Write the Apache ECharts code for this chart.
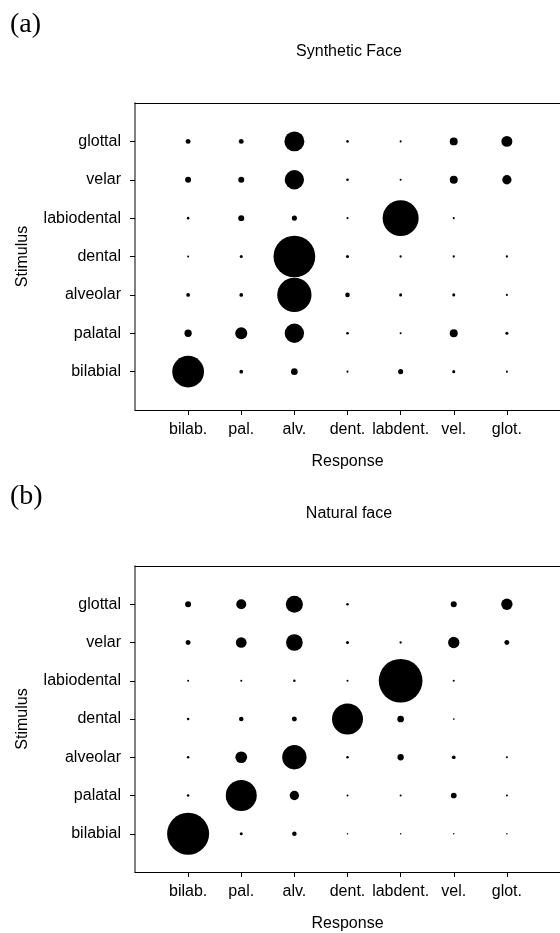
<!DOCTYPE html>
<html>
<head>
<meta charset="utf-8">
<script src="https://cdn.jsdelivr.net/npm/echarts@6/dist/echarts.min.js"></script>
<style>
html,body{margin:0;padding:0;background:#fff;}
#chart{width:560px;height:933px;}
</style>
</head>
<body>
<div id="chart"></div>
<script>
// Response categories (x) and stimulus categories (y, bottom to top)
const responseLabels = ['bilab.', 'pal.', 'alv.', 'dent.', 'labdent.', 'vel.', 'glot.'];
const stimulusLabels = ['bilabial', 'palatal', 'alveolar', 'dental', 'labiodental', 'velar', 'glottal'];

// (a) Synthetic Face: one row per stimulus, values per response (bubble area)
const synBilabial    = [47.5, 0.65, 2.1, 0.19, 1.2, 0.43, 0.19];
const synPalatal     = [2.5, 6.8, 17.6, 0.34, 0.19, 3.0, 0.43];
const synAlveolar    = [0.65, 0.65, 55.6, 0.96, 0.43, 0.43, 0.19];
const synDental      = [0.19, 0.43, 82.2, 0.43, 0.25, 0.25, 0.25];
const synLabiodental = [0.3, 1.7, 1.2, 0.19, 61.2, 0.19, 0];
const synVelar       = [1.7, 1.7, 17.6, 0.34, 0.19, 3.0, 4.1];
const synGlottal     = [1.18, 1.18, 18.9, 0.3, 0.19, 3.0, 5.7];

// (b) Natural face
const natBilabial    = [83.4, 0.43, 0.96, 0.11, 0.11, 0.11, 0.11];
const natPalatal     = [0.3, 45.4, 4.1, 0.19, 0.19, 1.54, 0.19];
const natAlveolar    = [0.3, 6.47, 27.9, 0.3, 1.88, 0.65, 0.19];
const natDental      = [0.3, 0.96, 1.18, 45.4, 2.12, 0.14, 0];
const natLabiodental = [0.19, 0.19, 0.3, 0.19, 90.3, 0.19, 0];
const natVelar       = [1.18, 5.41, 13.2, 0.43, 0.25, 6.03, 1.18];
const natGlottal     = [1.7, 4.73, 13.7, 0.3, 0, 1.7, 6.03];

const panelTitles = ['Synthetic Face', 'Natural face'];
const panelTags = ['(a)', '(b)'];

function toPoints(rows) {
  const pts = [];
  rows.forEach((row, yi) => {
    row.forEach((v, xi) => {
      if (v > 0) pts.push([xi + 1, yi + 1, v]);
    });
  });
  return pts;
}
const synData = toPoints([synBilabial, synPalatal, synAlveolar, synDental, synLabiodental, synVelar, synGlottal]);
const natData = toPoints([natBilabial, natPalatal, natAlveolar, natDental, natLabiodental, natVelar, natGlottal]);

const FONT = 'Liberation Sans, Arial, Helvetica, sans-serif';
const tickVals = [1, 2, 3, 4, 5, 6, 7];

const grids = [
  {left: 135, right: -2, top: 103, height: 307},
  {left: 135, right: -2, top: 566, height: 307}
];

function bottomX(gi) {
  return {
    type: 'value', gridIndex: gi, min: 0, max: 8, interval: 1, position: 'bottom',
    axisLine: {show: true, onZero: false, lineStyle: {color: '#000', width: 1}},
    axisTick: {show: true, length: 5, customValues: tickVals, lineStyle: {color: '#000', width: 1}},
    axisLabel: {customValues: tickVals, formatter: v => responseLabels[v - 1] || '', color: '#000', fontSize: 16, fontFamily: FONT, margin: 12},
    splitLine: {show: false},
    name: 'Response', nameLocation: 'middle', nameGap: 44,
    nameTextStyle: {color: '#000', fontSize: 16, fontFamily: FONT}
  };
}
function topX(gi) {
  return {
    type: 'value', gridIndex: gi, min: 0, max: 8, interval: 1, position: 'top',
    axisLine: {show: true, onZero: false, lineStyle: {color: '#000', width: 1}},
    axisTick: {show: false}, axisLabel: {show: false}, splitLine: {show: false}
  };
}
function leftY(gi) {
  return {
    type: 'value', gridIndex: gi, min: 0, max: 8, interval: 1,
    axisLine: {show: true, onZero: false, lineStyle: {color: '#555', width: 1.5}},
    axisTick: {show: true, length: 5, customValues: tickVals, lineStyle: {color: '#000', width: 1}},
    axisLabel: {customValues: tickVals, formatter: v => stimulusLabels[v - 1] || '', color: '#000', fontSize: 16, fontFamily: FONT, margin: 14},
    splitLine: {show: false},
    name: 'Stimulus', nameLocation: 'middle', nameGap: 104, nameRotate: 90,
    nameTextStyle: {color: '#000', fontSize: 16, fontFamily: FONT}
  };
}

const chart = echarts.init(document.getElementById('chart'), null, {renderer: 'canvas'});
chart.setOption({
  animation: false,
  backgroundColor: '#fff',
  grid: grids,
  xAxis: [bottomX(0), bottomX(1), topX(0), topX(1)],
  yAxis: [leftY(0), leftY(1)],
  graphic: [
    {type: 'text', x: 10, y: 25, style: {text: panelTags[0], font: '28px "Liberation Serif", "Times New Roman", serif', fill: '#000', verticalAlign: 'middle'}},
    {type: 'text', x: 10, y: 497, style: {text: panelTags[1], font: '28px "Liberation Serif", "Times New Roman", serif', fill: '#000', verticalAlign: 'middle'}},
    {type: 'text', x: 349, y: 52, style: {text: panelTitles[0], font: '16px ' + FONT, fill: '#000', align: 'center', verticalAlign: 'middle'}},
    {type: 'text', x: 349, y: 514, style: {text: panelTitles[1], font: '16px ' + FONT, fill: '#000', align: 'center', verticalAlign: 'middle'}}
  ],
  series: [
    {type: 'scatter', xAxisIndex: 0, yAxisIndex: 0, data: synData,
     symbolSize: v => Math.sqrt(v[2]) * 4.6, itemStyle: {color: '#000', opacity: 1}},
    {type: 'scatter', xAxisIndex: 1, yAxisIndex: 1, data: natData,
     symbolSize: v => Math.sqrt(v[2]) * 4.6, itemStyle: {color: '#000', opacity: 1}}
  ]
});
</script>
</body>
</html>
